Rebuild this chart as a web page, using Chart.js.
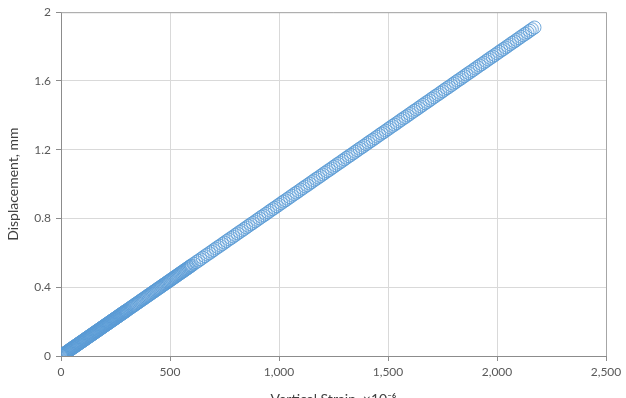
<!DOCTYPE html>
<html>
<head>
<meta charset="utf-8">
<script src="https://cdn.jsdelivr.net/npm/chart.js@4.4.1/dist/chart.umd.min.js"></script>
<style>
  html,body{margin:0;padding:0;background:#fff;overflow:hidden;}
  #wrap{width:626px;height:412px;}
</style>
</head>
<body>
<div id="wrap"><canvas id="chart" width="626" height="412"></canvas></div>
<script>
// DATA
const strain = [
  0,3,6,9,12,15,18,21,24,27,30,33,36,39,42,45,48,51,54,57,60,63,66,69,72,75,78,81,84,87,90,93,96,99,
  102,105,108,111,114,117,120,123,126,129,132,135,138,141,144,147,150,153,156,159,162,165,168,171,174,177,180,183,186,189,192,195,198,
  201,204,207,210,213,216,219,222,225,228,231,234,237,240,243,246,249,252,255,258,261,264,267,270,273,276,279,282,285,288,291,294,297,300,
  305,310,315,320,325,330,335,340,345,350,355,360,365,370,375,380,385,390,395,400,
  405,410,415,420,425,430,435,440,445,450,455,460,465,470,475,480,485,490,495,500,
  505,510,515,520,525,530,535,540,545,550,555,560,565,570,575,580,585,590,595,600,
  610,620,630,640,650,660,670,680,690,700,
  710,720,730,740,750,760,770,780,790,800,810,820,830,840,850,860,870,880,890,900,
  910,920,930,940,950,960,970,980,990,1000,1010,1020,1030,1040,1050,1060,1070,1080,1090,1100,
  1110,1120,1130,1140,1150,1160,1170,1180,1190,1200,1210,1220,1230,1240,1250,1260,1270,1280,1290,1300,
  1310,1320,1330,1340,1350,1360,1370,1380,1390,1400,1410,1420,1430,1440,1450,1460,1470,1480,1490,1500,
  1510,1520,1530,1540,1550,1560,1570,1580,1590,1600,1610,1620,1630,1640,1650,1660,1670,1680,1690,1700,
  1710,1720,1730,1740,1750,1760,1770,1780,1790,1800,1810,1820,1830,1840,1850,1860,1870,1880,1890,1900,
  1910,1920,1930,1940,1950,1960,1970,1980,1990,2000,2010,2020,2030,2040,2050,2060,2070,2080,2090,2100,
  2110,2120,2130,2140,2150,2160,2172
];
const displacement = [
  0,0.003,0.005,0.008,0.011,0.013,0.016,0.018,0.021,0.024,0.026,0.029,0.032,0.034,0.037,0.040,0.042,0.045,0.048,0.050,0.053,0.055,0.058,0.061,0.063,0.066,0.069,0.071,0.074,0.077,0.079,0.082,0.084,0.087,
  0.090,0.092,0.095,0.098,0.100,0.103,0.106,0.108,0.111,0.114,0.116,0.119,0.121,0.124,0.127,0.129,0.132,0.135,0.137,0.140,0.143,0.145,0.148,0.150,0.153,0.156,0.158,0.161,0.164,0.166,0.169,0.172,0.174,
  0.177,0.180,0.182,0.185,0.187,0.190,0.193,0.195,0.198,0.201,0.203,0.206,0.209,0.211,0.214,0.216,0.219,0.222,0.224,0.227,0.230,0.232,0.235,0.238,0.240,0.243,0.246,0.248,0.251,0.253,0.256,0.259,0.261,0.264,
  0.268,0.273,0.277,0.282,0.286,0.290,0.295,0.299,0.304,0.308,0.312,0.317,0.321,0.326,0.330,0.334,0.339,0.343,0.348,0.352,
  0.356,0.361,0.365,0.370,0.374,0.378,0.383,0.387,0.392,0.396,0.400,0.405,0.409,0.414,0.418,0.422,0.427,0.431,0.436,0.440,
  0.444,0.449,0.453,0.458,0.462,0.466,0.471,0.475,0.480,0.484,0.488,0.493,0.497,0.502,0.506,0.510,0.515,0.519,0.524,0.528,
  0.537,0.546,0.554,0.563,0.572,0.581,0.590,0.598,0.607,0.616,
  0.625,0.634,0.642,0.651,0.660,0.669,0.678,0.686,0.695,0.704,0.713,0.722,0.730,0.739,0.748,0.757,0.766,0.774,0.783,0.792,
  0.801,0.810,0.818,0.827,0.836,0.845,0.854,0.862,0.871,0.880,0.889,0.898,0.906,0.915,0.924,0.933,0.942,0.950,0.959,0.968,
  0.977,0.986,0.994,1.003,1.012,1.021,1.030,1.038,1.047,1.056,1.065,1.074,1.082,1.091,1.100,1.109,1.118,1.126,1.135,1.144,
  1.153,1.162,1.170,1.179,1.188,1.197,1.206,1.214,1.223,1.232,1.241,1.250,1.258,1.267,1.276,1.285,1.294,1.302,1.311,1.320,
  1.329,1.338,1.346,1.355,1.364,1.373,1.382,1.390,1.399,1.408,1.417,1.426,1.434,1.443,1.452,1.461,1.470,1.478,1.487,1.496,
  1.505,1.514,1.522,1.531,1.540,1.549,1.558,1.566,1.575,1.584,1.593,1.602,1.610,1.619,1.628,1.637,1.646,1.654,1.663,1.672,
  1.681,1.690,1.698,1.707,1.716,1.725,1.734,1.742,1.751,1.760,1.769,1.778,1.786,1.795,1.804,1.813,1.822,1.830,1.839,1.848,
  1.857,1.866,1.874,1.883,1.892,1.901,1.911
];
const xTicks = [0,500,1000,1500,2000,2500];
const yTicks = [0,0.4,0.8,1.2,1.6,2];
const xTitle = 'Vertical Strain, ×10⁻⁶';
const yTitle = 'Displacement, mm';

const points = strain.map((s,i)=>({x:s,y:displacement[i]}));

// box round the plot area (top and right edges)
const plotBox = {
  id:'plotBox',
  afterDraw(chart){
    const a = chart.chartArea, c = chart.ctx;
    c.save();
    c.strokeStyle = '#a6a6a6';
    c.lineWidth = 1;
    c.beginPath();
    c.moveTo(a.left, a.top+0.5); c.lineTo(a.right+0.5, a.top+0.5); c.lineTo(a.right+0.5, a.bottom);
    c.stroke();
    c.restore();
  }
};

const tickFont = {family:'Lato, "Open Sans", sans-serif', size:12};

new Chart(document.getElementById('chart').getContext('2d'),{
  type:'scatter',
  data:{datasets:[{
    label:'data',
    data:points,
    pointStyle:'circle',
    pointRadius:6.5,
    pointBorderWidth:1,
    borderColor:'rgba(91,155,213,0.85)',
    backgroundColor:'rgba(91,155,213,0.03)',
    pointHoverRadius:6.5
  }]},
  options:{
    responsive:false,
    animation:false,
    events:[],
    layout:{padding:{left:0,right:20,top:10,bottom:0}},
    plugins:{legend:{display:false},tooltip:{enabled:false}},
    scales:{
      x:{
        type:'linear', min:0, max:2500,
        afterBuildTicks(s){ s.ticks = xTicks.map(v=>({value:v})); },
        afterFit(s){ s.height = 56; },
        ticks:{color:'#595959', font:tickFont, padding:4, maxRotation:0,
          callback:v=>v.toLocaleString('en-US')},
        grid:{color:'#d9d9d9', tickColor:'#8c8c8c', tickLength:5, drawOnChartArea:true},
        border:{color:'#8c8c8c', width:1},
        title:{display:true, text:xTitle, color:'#404040',
          font:{family:'Lato, "Open Sans", sans-serif', size:14}, padding:{top:0,bottom:4}}
      },
      y:{
        type:'linear', min:0, max:2,
        afterBuildTicks(s){ s.ticks = yTicks.map(v=>({value:v})); },
        afterFit(s){ s.width = 61; },
        ticks:{color:'#595959', font:tickFont, padding:5,
          callback:v=>String(v)},
        grid:{color:'#d9d9d9', tickColor:'#8c8c8c', tickLength:5},
        border:{color:'#8c8c8c', width:1},
        title:{display:true, text:yTitle, color:'#404040',
          font:{family:'Lato, "Open Sans", sans-serif', size:14}, padding:{top:5,bottom:0}}
      }
    }
  },
  plugins:[plotBox]
});
</script>
</body>
</html>
